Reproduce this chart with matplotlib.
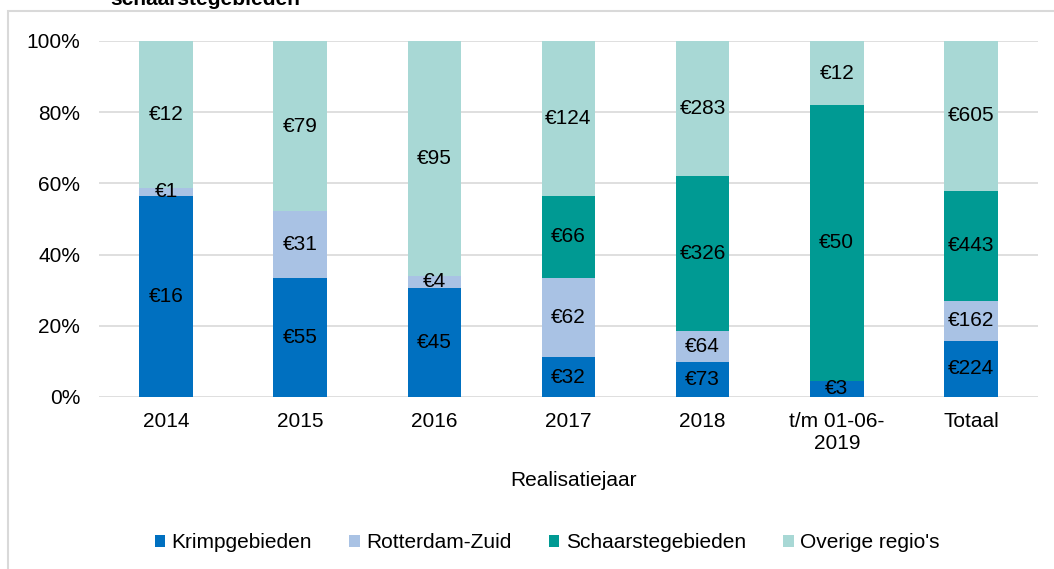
import matplotlib.pyplot as plt
from matplotlib.patches import Patch, Rectangle
import numpy as np

plt.rcParams['font.family'] = ['Liberation Sans', 'DejaVu Sans']

years = ["2014", "2015", "2016", "2017", "2018", "t/m 01-06-\n2019", "Totaal"]
series = ["Krimpgebieden", "Rotterdam-Zuid", "Schaarstegebieden", "Overige regio's"]
colors = ["#0070c0", "#a9c2e4", "#009a93", "#a8d8d5"]

# share of each year (percent)
krimp_pct = [56.6, 33.4, 30.7, 11.2, 9.8, 4.6, 15.8]
rdam_pct = [2.1, 18.8, 3.4, 22.2, 8.8, 0.0, 11.3]
schaarste_pct = [0.0, 0.0, 0.0, 23.1, 43.4, 77.4, 30.8]
overige_pct = [41.3, 47.8, 65.9, 43.5, 38.0, 18.0, 42.1]

# amounts shown in the bars (x mln euro)
krimp_eur = [16, 55, 45, 32, 73, 3, 224]
rdam_eur = [1, 31, 4, 62, 64, None, 162]
schaarste_eur = [None, None, None, 66, 326, 50, 443]
overige_eur = [12, 79, 95, 124, 283, 12, 605]

fig = plt.figure(figsize=(10.54, 5.69), dpi=100)
ax = fig.add_axes([99 / 1054, 1 - 397 / 569, (1038 - 99) / 1054, (397 - 41) / 569])

x = np.arange(len(years))
bottom = np.zeros(len(years))
for pct, eur, col in zip([krimp_pct, rdam_pct, schaarste_pct, overige_pct],
                         [krimp_eur, rdam_eur, schaarste_eur, overige_eur], colors):
    bars = ax.bar(x, pct, 0.4, bottom=bottom, color=col, linewidth=0, zorder=2)
    labels = ["" if v is None else "€%d" % v for v in eur]
    ax.bar_label(bars, labels=labels, label_type="center", fontsize=15, color="black")
    bottom += np.array(pct)

ax.set_xlim(-0.5, len(years) - 0.5)
ax.set_ylim(0, 100)
ax.set_yticks(range(0, 101, 20))
ax.set_yticklabels(["%d%%" % v for v in range(0, 101, 20)])
ax.set_xticks(x)
ax.set_xticklabels(years, linespacing=1.15)
ax.tick_params(axis="both", length=0, labelsize=15)
ax.tick_params(axis="x", pad=11)
ax.tick_params(axis="y", pad=13.5)
ax.grid(axis="y", color="#d9d9d9", linewidth=1.2, zorder=0)
ax.set_axisbelow(True)
for s in ax.spines.values():
    s.set_visible(False)

fig.text(574 / 1054, 1 - 480 / 569, "Realisatiejaar", ha="center", va="center", fontsize=15)

# title is cut off at the top of the picture
fig.text(110 / 1054, 1 - 5 / 569, "schaarstegebieden", ha="left", va="baseline",
         fontsize=15, fontweight="bold")

# outer chart frame
fig.patches.append(Rectangle((8 / 1054, -0.1), 2, 1.1 - 11 / 569, transform=fig.transFigure,
                             fill=False, edgecolor="#d9d9d9", linewidth=1.5))

handles = [Patch(facecolor=c, edgecolor="none") for c in colors]
fig.legend(handles, series, loc="center", bbox_to_anchor=(0.519, 1 - 543 / 569), ncol=4,
           frameon=False, fontsize=15, handlelength=0.5, handleheight=0.5,
           handletextpad=0.3, columnspacing=1.8)

fig.savefig("out.png", dpi=100)
